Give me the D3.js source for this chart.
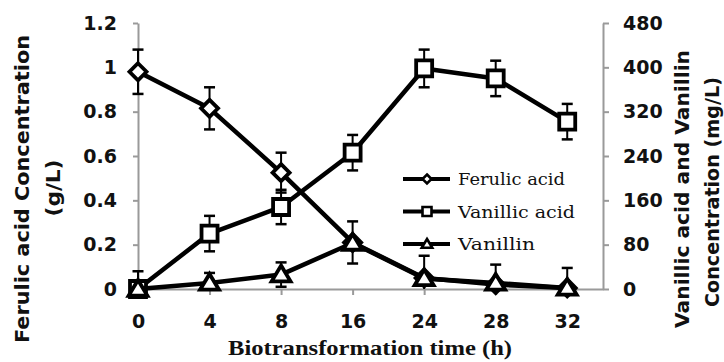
<!DOCTYPE html>
<html>
<head>
<meta charset="utf-8">
<script src="https://cdn.jsdelivr.net/npm/d3@7"></script>
<style>
  html, body { margin: 0; padding: 0; background: #fff; }
  svg { display: block; }
</style>
</head>
<body>
<svg id="chart" width="724" height="362"></svg>
<script>
// ---- data ----
const categories = ["0", "4", "8", "16", "24", "28", "32"];   // Biotransformation time (h)
const ferulic      = [0.98, 0.815, 0.525, 0.21, 0.05, 0.02, 0.005]; // g/L, left axis
const ferulicErr   = [0.10, 0.095, 0.09, 0.095, 0.10, 0.09, 0.09];
const vanillicAcid = [0, 100, 148, 246, 398, 380, 302];        // mg/L, right axis
const vanillicErr  = [32, 32, 31, 32, 34, 32, 32];
const vanillin     = [0, 11, 26, 83, 19, 11, 2];               // mg/L, right axis
const vanillinErr  = [0, 18, 22, 0, 0, 0, 0];
const leftTicks  = [0, 0.2, 0.4, 0.6, 0.8, 1, 1.2];
const leftTickLabels = ["0", "0.2", "0.4", "0.6", "0.8", "1", "1.2"];
const rightTicks = [0, 80, 160, 240, 320, 400, 480];
const seriesNames = ["Ferulic acid", "Vanillic acid", "Vanillin"];

// ---- layout ----
const svg = d3.select("#chart");
const X0 = 138, X1 = 603, YB = 289, YT = 23;
const axisGrey = "#9a9a9a";

const x = d3.scaleLinear().domain([0, categories.length - 0.5]).range([X0, X1]);
const yL = d3.scaleLinear().domain([0, 1.2]).range([YB, YT]);
const yR = d3.scaleLinear().domain([0, 480]).range([YB, YT]);

const tickFont = "'DejaVu Sans', sans-serif";

function styleAxis(g) {
  g.select(".domain").attr("stroke", axisGrey).attr("stroke-width", 2);
  g.selectAll(".tick line").attr("stroke", axisGrey).attr("stroke-width", 2);
  g.selectAll(".tick text").attr("fill", "#111")
    .style("font-family", tickFont).style("font-weight", "bold").style("font-size", "19px");
}

// x axis
svg.append("g").attr("transform", `translate(0,${YB})`)
  .call(d3.axisBottom(x).tickValues(d3.range(categories.length))
    .tickFormat(i => categories[i]).tickSize(6).tickSizeOuter(0).tickPadding(20))
  .call(styleAxis);

// left axis
svg.append("g").attr("transform", `translate(${X0},0)`)
  .call(d3.axisLeft(yL).tickValues(leftTicks)
    .tickFormat((d, i) => leftTickLabels[i]).tickSize(5).tickSizeOuter(0).tickPadding(16))
  .call(styleAxis);

// right axis
svg.append("g").attr("transform", `translate(${X1},0)`)
  .call(d3.axisRight(yR).tickValues(rightTicks).tickSize(6).tickSizeOuter(0).tickPadding(14))
  .call(styleAxis);

// ---- series ----
const series = [
  { name: seriesNames[0], values: ferulic, err: ferulicErr, y: yL, marker: "diamond" },
  { name: seriesNames[1], values: vanillicAcid, err: vanillicErr, y: yR, marker: "square" },
  { name: seriesNames[2], values: vanillin, err: vanillinErr, y: yR, marker: "triangle" }
];

function markerPath(type, s) {
  if (type === "diamond") return `M0,${-s}L${s},0L0,${s}L${-s},0Z`;
  if (type === "square") return `M${-s},${-s}H${s}V${s}H${-s}Z`;
  return `M0,${-s}L${s * 1.05},${s * 0.75}L${-s * 1.05},${s * 0.75}Z`;
}
const markerSize = { diamond: 8.5, square: 8, triangle: 9 };

const plot = svg.append("g");
series.forEach(sr => {
  const g = plot.append("g");
  const line = d3.line().x((d, i) => x(i)).y(d => sr.y(d));
  g.append("path").datum(sr.values).attr("d", line)
    .attr("fill", "none").attr("stroke", "#000").attr("stroke-width", 4.5)
    .attr("stroke-linejoin", "round");
  // error bars
  const eb = g.selectAll(".eb").data(sr.values.map((v, i) => ({ v, e: sr.err[i], i })).filter(d => d.e > 0))
    .enter().append("g");
  eb.append("line")
    .attr("x1", d => x(d.i)).attr("x2", d => x(d.i))
    .attr("y1", d => sr.y(Math.max(0, d.v - d.e))).attr("y2", d => sr.y(d.v + d.e))
    .attr("stroke", "#000").attr("stroke-width", 2);
  eb.append("line")
    .attr("x1", d => x(d.i) - 5.5).attr("x2", d => x(d.i) + 5.5)
    .attr("y1", d => sr.y(d.v + d.e)).attr("y2", d => sr.y(d.v + d.e))
    .attr("stroke", "#000").attr("stroke-width", 2.5);
  eb.filter(d => d.v - d.e > 0).append("line")
    .attr("x1", d => x(d.i) - 5.5).attr("x2", d => x(d.i) + 5.5)
    .attr("y1", d => sr.y(d.v - d.e)).attr("y2", d => sr.y(d.v - d.e))
    .attr("stroke", "#000").attr("stroke-width", 2.5);
  // markers
  g.selectAll(".mk").data(sr.values).enter().append("path")
    .attr("transform", (d, i) => `translate(${x(i)},${sr.y(d)})`)
    .attr("d", markerPath(sr.marker, markerSize[sr.marker]))
    .attr("fill", "#fff").attr("stroke", "#000").attr("stroke-width", 3.8)
    .attr("stroke-linejoin", "miter");
});

// ---- legend ----
const legendRows = [179, 211.5, 244];
const legendTextLen = [107, 117, 77];
const legSize = { diamond: 4.5, square: 4.5, triangle: 5 };
series.forEach((sr, k) => {
  const gy = legendRows[k];
  const lg = svg.append("g");
  lg.append("line").attr("x1", 403).attr("x2", 450).attr("y1", gy).attr("y2", gy)
    .attr("stroke", "#000").attr("stroke-width", 4);
  lg.append("path").attr("transform", `translate(427,${gy})`)
    .attr("d", markerPath(sr.marker, legSize[sr.marker]))
    .attr("fill", "#fff").attr("stroke", "#000").attr("stroke-width", 2.6);
  lg.append("text").attr("x", 458).attr("y", gy + 6)
    .attr("textLength", legendTextLen[k]).attr("lengthAdjust", "spacingAndGlyphs")
    .style("font-family", "'DejaVu Serif', 'Liberation Serif', serif")
    .style("font-size", "16px").attr("fill", "#111")
    .text(sr.name);
});

// ---- axis titles ----
svg.append("text").attr("x", 370).attr("y", 355).attr("text-anchor", "middle")
  .attr("textLength", 284).attr("lengthAdjust", "spacingAndGlyphs")
  .style("font-family", "'Liberation Serif', 'DejaVu Serif', serif")
  .style("font-weight", "bold").style("font-size", "21px").attr("fill", "#111")
  .text("Biotransformation time (h)");

function vTitle(cx, cy, txt, len) {
  svg.append("text").attr("transform", `translate(${cx},${cy}) rotate(-90)`)
    .attr("text-anchor", "middle").attr("dy", "0.36em")
    .attr("textLength", len).attr("lengthAdjust", "spacingAndGlyphs")
    .style("font-family", tickFont).style("font-weight", "bold").style("font-size", "19px")
    .attr("fill", "#111").text(txt);
}
vTitle(22, 189, "Ferulic acid Concentration", 308);
vTitle(53, 188, "(g/L)", 57);
vTitle(682, 189, "Vanillic acid and Vanillin", 278);
vTitle(712, 192, "Concentration (mg/L)", 230);
</script>
</body>
</html>
